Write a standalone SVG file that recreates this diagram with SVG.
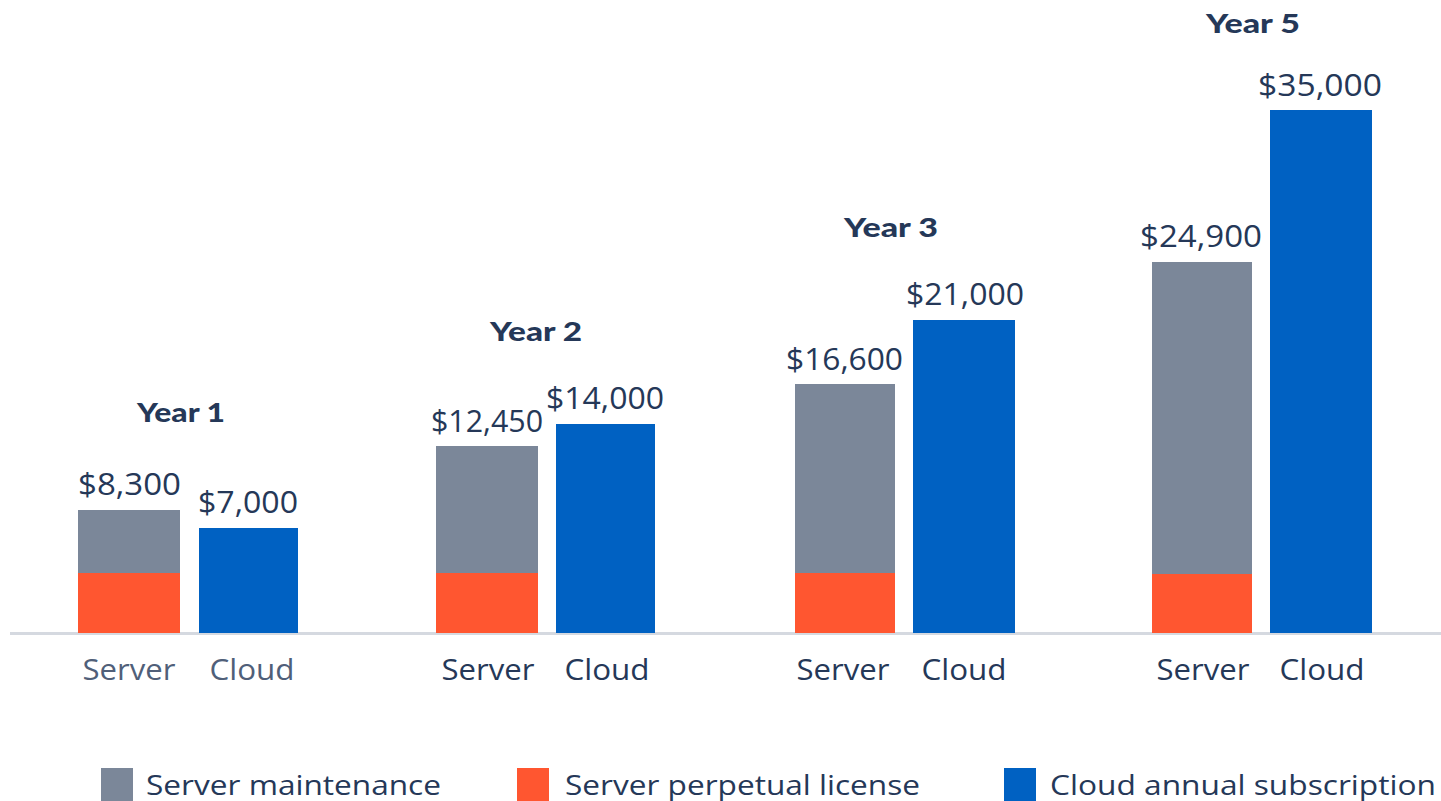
<svg xmlns="http://www.w3.org/2000/svg" width="1441" height="801" viewBox="0 0 1441 801">
<style>
.maint{fill:#7b8799}
.lic{fill:#ff5630}
.cloud{fill:#0061c2}
.val{font-family:"Open Sans","Liberation Sans",sans-serif;font-size:31px;fill:#253858;text-anchor:middle}
.year{font-family:Lato,"Liberation Sans",sans-serif;font-weight:900;font-size:27px;fill:#253858;text-anchor:middle}
.cat{font-family:"Open Sans","Liberation Sans",sans-serif;font-size:29px;fill:#253858;text-anchor:middle}
.cat1{fill:#505f79}
.leg{font-family:"Open Sans","Liberation Sans",sans-serif;font-size:28px;fill:#253858}
</style>
<rect width="1441" height="801" fill="#ffffff"/>
<g id="axis"><rect x="10" y="632" width="1431" height="3" fill="#d5d9e0"/></g>
<g id="year1">
<text class="year" x="181" y="422" textLength="88" lengthAdjust="spacingAndGlyphs">Year 1</text>
<rect class="maint" x="78" y="510" width="102" height="64"/>
<rect class="lic" x="78" y="573" width="102" height="60"/>
<rect class="cloud" x="199" y="528" width="99" height="105"/>
<text class="val" x="129.5" y="495" textLength="103" lengthAdjust="spacingAndGlyphs">$8,300</text>
<text class="val" x="248" y="513" textLength="100" lengthAdjust="spacingAndGlyphs">$7,000</text>
<text class="cat cat1" x="129" y="680" textLength="93" lengthAdjust="spacingAndGlyphs">Server</text>
<text class="cat cat1" x="252" y="680" textLength="85" lengthAdjust="spacingAndGlyphs">Cloud</text>
</g>
<g id="year2">
<text class="year" x="536" y="341" textLength="92" lengthAdjust="spacingAndGlyphs">Year 2</text>
<rect class="maint" x="436" y="446" width="102" height="128"/>
<rect class="lic" x="436" y="573" width="102" height="60"/>
<rect class="cloud" x="556" y="424" width="99" height="209"/>
<text class="val" x="487" y="432" textLength="112" lengthAdjust="spacingAndGlyphs">$12,450</text>
<text class="val" x="605" y="409" textLength="118" lengthAdjust="spacingAndGlyphs">$14,000</text>
<text class="cat" x="488" y="680" textLength="93" lengthAdjust="spacingAndGlyphs">Server</text>
<text class="cat" x="607" y="680" textLength="85" lengthAdjust="spacingAndGlyphs">Cloud</text>
</g>
<g id="year3">
<text class="year" x="891" y="237" textLength="94" lengthAdjust="spacingAndGlyphs">Year 3</text>
<rect class="maint" x="795" y="384" width="100" height="190"/>
<rect class="lic" x="795" y="573" width="100" height="60"/>
<rect class="cloud" x="913" y="320" width="102" height="313"/>
<text class="val" x="844.5" y="370" textLength="117" lengthAdjust="spacingAndGlyphs">$16,600</text>
<text class="val" x="965" y="305" textLength="118" lengthAdjust="spacingAndGlyphs">$21,000</text>
<text class="cat" x="843" y="680" textLength="93" lengthAdjust="spacingAndGlyphs">Server</text>
<text class="cat" x="964" y="680" textLength="85" lengthAdjust="spacingAndGlyphs">Cloud</text>
</g>
<g id="year5">
<text class="year" x="1253" y="33" textLength="94" lengthAdjust="spacingAndGlyphs">Year 5</text>
<rect class="maint" x="1152" y="262" width="100" height="313"/>
<rect class="lic" x="1152" y="574" width="100" height="59"/>
<rect class="cloud" x="1270" y="110" width="102" height="523"/>
<text class="val" x="1201" y="247" textLength="122" lengthAdjust="spacingAndGlyphs">$24,900</text>
<text class="val" x="1320" y="96" textLength="124" lengthAdjust="spacingAndGlyphs">$35,000</text>
<text class="cat" x="1203" y="680" textLength="93" lengthAdjust="spacingAndGlyphs">Server</text>
<text class="cat" x="1322" y="680" textLength="85" lengthAdjust="spacingAndGlyphs">Cloud</text>
</g>
<g id="legend">
<rect class="maint" x="101" y="768" width="32" height="33"/>
<text class="leg" x="146" y="795" textLength="295" lengthAdjust="spacingAndGlyphs">Server maintenance</text>
<rect class="lic" x="517" y="768" width="32" height="33"/>
<text class="leg" x="565" y="795" textLength="355" lengthAdjust="spacingAndGlyphs">Server perpetual license</text>
<rect class="cloud" x="1004" y="768" width="32" height="33"/>
<text class="leg" x="1050" y="795" textLength="386" lengthAdjust="spacingAndGlyphs">Cloud annual subscription</text>
</g>
</svg>
